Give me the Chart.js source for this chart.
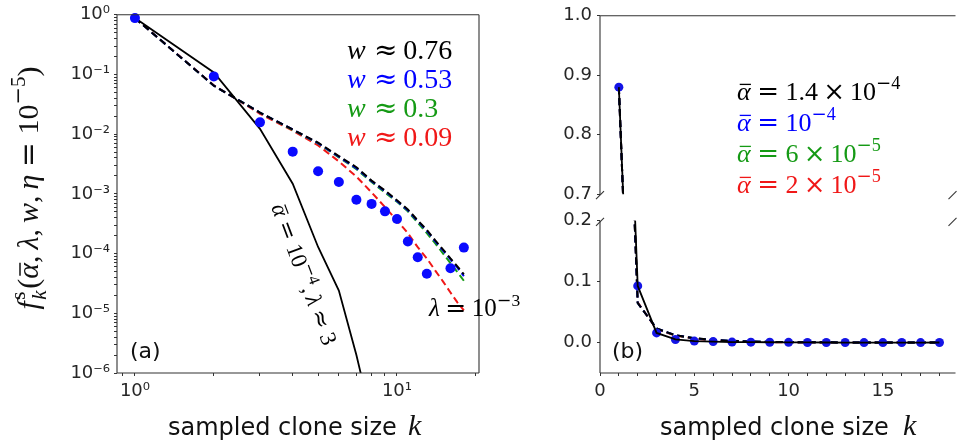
<!DOCTYPE html>
<html><head><meta charset="utf-8">
<script src="https://cdn.jsdelivr.net/npm/chart.js@4.4.1/dist/chart.umd.min.js"></script>
<style>
html,body{margin:0;padding:0;background:#fff;overflow:hidden;width:957px;height:442px;position:relative;}
canvas{position:absolute;display:block;}
</style></head><body>
<canvas id="left" width="560" height="442" style="left:0;top:0"></canvas>
<canvas id="rtop" width="400" height="210" style="left:560px;top:0"></canvas>
<canvas id="rbot" width="400" height="237" style="left:560px;top:205px"></canvas>
<script>
// ---------------- data ----------------
const sampledSize = [1,2,3,4,5,6,7,8,9,10,11,12,13,14,15,16,17,18];
const observedFreq = [0.88,0.093,0.0158,0.0051,0.0024,0.00158,0.00080,0.00068,0.00051,0.00038,0.000160,0.000087,0.000046,0,0,0.000057,0,0.000126];
const lambda3Size = [1,2,3,4,5,6,7,8];
const lambda3Freq = [0.88,0.108,0.0123,0.00148,0.000129,0.000024,0.0000020,0.00000017];
const w076Freq = [0.88,0.065,0.023,0.012,0.0072,0.0043,0.0028,0.00167,0.00114,0.00078,0.00055,0.00036,0.00025,0.000166,0.000117,0.000083,0.000061,0.000045];
const w053Freq = [0.88,0.065,0.023,0.012,0.0071,0.0042,0.0027,0.00163,0.00111,0.00076,0.00053,0.00035,0.00024,0.000160,0.000112,0.000080,0.000058,0.000042];
const w030Freq = [0.88,0.065,0.023,0.0118,0.0070,0.0041,0.0026,0.00158,0.00105,0.00074,0.00051,0.00033,0.00022,0.000148,0.000100,0.000069,0.000049,0.000035];
const w009Freq = [0.88,0.066,0.022,0.0115,0.0065,0.0035,0.00195,0.00106,0.00060,0.00036,0.00022,0.000128,0.000083,0.000052,0.000034,0.0000223,0.0000152,0.0000112];
const logXTicks = [0.9,1,2,3,4,5,6,7,8,9,10,20];
const logYDecades = [-6,-5,-4,-3,-2,-1,0];
const linXTicks = [0,1,2,3,4,5,6,7,8,9,10,11,12,13,14,15,16,17,18];
const linXLabelled = [0,5,10,15];
const topYTicks = [0.7,0.8,0.9,1.0];
const bottomYTicks = [0.0,0.1,0.2];
const wLegend = ['0.76','0.53','0.3','0.09'];
const seriesColors = ['#000000','#0000ff','#159a15','#f01818'];
const dotColor = '#0a0aff';

// ---------------- helpers ----------------
const SERIF = '"Liberation Serif", "Times New Roman", serif';
const OPS = '"DejaVu Serif", serif';
const SANS = '"DejaVu Sans", sans-serif';
const SUP = {'-':'⁻','0':'⁰','1':'¹','2':'²','3':'³','4':'⁴','5':'⁵','6':'⁶','7':'⁷','8':'⁸','9':'⁹'};
const supStr = n => String(n).split('').map(c => SUP[c]).join('');
const logYTicks = [];
logYDecades.forEach(d => { if (d === 0) logYTicks.push(1); else for (let m = 1; m <= 9; m++) logYTicks.push(m * Math.pow(10, d)); });
function powLabel(v){ const e = Math.round(Math.log10(v)); return Math.abs(v/Math.pow(10,e) - 1) < 1e-6 ? '10' + supStr(e) : ''; }
function pts(xs, ys, logMode){ return xs.map((x,i) => ({x, y: (logMode && !(ys[i] > 0)) ? null : ys[i]})); }

function segFont(s, size){ return (s.it ? 'italic ' : '') + (size*(s.sc||1)).toFixed(2) + 'px ' + (s.op ? OPS : (s.fam||SERIF)); }
function drawRich(ctx, segs, x, y, size, color, angle, align){
  ctx.save();
  ctx.translate(x, y); if (angle) ctx.rotate(angle);
  ctx.textBaseline = 'alphabetic'; ctx.textAlign = 'left';
  let cx = 0, prevStart = 0; const items = [];
  for (const s of segs){ ctx.font = segFont(s,size); const w = ctx.measureText(s.t).width; const sx = s.back ? prevStart : cx + (s.gap||0)*size; items.push([s,sx,w]); prevStart = sx; cx = Math.max(cx, sx+w); }
  const off = align === 'center' ? -cx/2 : align === 'right' ? -cx : 0;
  for (const [s,sx,w] of items){
    ctx.font = segFont(s,size); ctx.fillStyle = s.color||color;
    const dy = (s.dy||0)*size;
    ctx.fillText(s.t, sx+off, dy);
    if (s.bar){ ctx.strokeStyle = s.color||color; ctx.lineWidth = Math.max(1, size*0.05); ctx.beginPath(); ctx.moveTo(sx+off+w*0.2, dy-size*0.6); ctx.lineTo(sx+off+w*1.02, dy-size*0.6); ctx.stroke(); }
  }
  ctx.restore();
}
const RG = 0.25;
const op = (t, gap) => ({t, op:true, gap: gap === undefined ? RG : gap});
const num = (t, gap) => ({t, gap: gap === undefined ? RG : gap});
const expo = (n) => [{t:'−', op:true, sc:0.7, dy:-0.42}, {t:n, sc:0.7, dy:-0.42}];
const abar = {t:'α', it:true, bar:true};

function frame(ctx, a, sides){
  ctx.save(); ctx.strokeStyle = '#333'; ctx.lineWidth = 1.1; ctx.beginPath();
  if (sides.includes('l')){ ctx.moveTo(a.left, a.top); ctx.lineTo(a.left, a.bottom); }
  if (sides.includes('r')){ ctx.moveTo(a.right, a.top); ctx.lineTo(a.right, a.bottom); }
  if (sides.includes('t')){ ctx.moveTo(a.left, a.top); ctx.lineTo(a.right, a.top); }
  if (sides.includes('b')){ ctx.moveTo(a.left, a.bottom); ctx.lineTo(a.right, a.bottom); }
  ctx.stroke(); ctx.restore();
}
function breakMark(ctx, x, y){ ctx.save(); ctx.strokeStyle='#333'; ctx.lineWidth=1.1; ctx.beginPath(); ctx.moveTo(x-4, y+4); ctx.lineTo(x+4, y-4); ctx.stroke(); ctx.restore(); }

const tickFont = {family: 'DejaVu Sans', size: 18};
const tickColor = '#262626';
const gridOpts = {drawOnChartArea:false, drawTicks:true, tickLength:3, color:'#333', lineWidth:1};

function curveSets(logMode){
  const curves = [w076Freq, w053Freq, w030Freq, w009Freq];
  return curves.map((c,i) => ({data: pts(sampledSize, c, logMode), borderColor: seriesColors[i], borderWidth: 2, borderDash:[7,4], pointRadius:0, showLine:true, order: 2+i}));
}

// ---------------- left panel (log-log) ----------------
new Chart(document.getElementById('left'), {
  type: 'line',
  data: { datasets: [
    {data: pts(sampledSize, observedFreq, true), showLine:false, pointRadius:5, pointBackgroundColor:dotColor, pointBorderWidth:0, order:0, clip:false},
    {data: pts(lambda3Size, lambda3Freq, true), borderColor:'#000', borderWidth:1.8, pointRadius:0, order:1},
    ...curveSets(true)
  ]},
  options: {
    responsive:false, animation:false, events:[],
    layout: {padding: {left:0, top:14.5, right:81, bottom:0}},
    plugins: {legend:{display:false}, tooltip:{enabled:false}},
    elements: {line:{tension:0}},
    scales: {
      x: {type:'logarithmic', min:0.854, max:20.56,
          afterBuildTicks: s => { s.ticks = logXTicks.map(v => ({value:v})); },
          afterFit: s => { s.height = 69; },
          ticks: {autoSkip:false, maxRotation:0, padding:5, font:tickFont, color:tickColor, callback: v => powLabel(v)},
          grid: gridOpts, border:{display:false}},
      y: {type:'logarithmic', min:1e-6, max:1,
          afterBuildTicks: s => { s.ticks = logYTicks.map(v => ({value:v})); },
          afterFit: s => { s.width = 117; },
          ticks: {autoSkip:false, padding:4, font:tickFont, color:tickColor, callback: v => powLabel(v)},
          grid: gridOpts, border:{display:false}}
    }
  },
  plugins: [{id:'leftDecor', afterDraw(chart){
    const ctx = chart.ctx, a = chart.chartArea;
    frame(ctx, a, 'lrtb');
    // legend (w values)
    wLegend.forEach((w,i) => drawRich(ctx, [{t:'w', it:true}, op('≈', 0.3), num(w, 0.2)], 347, 59 + i*29, 28, seriesColors[i]));
    // rotated annotation along the solid curve
    drawRich(ctx, [abar, op('='), num('10'), ...expo('4'), {t:','}, {t:'λ', it:true, gap:0.17}, op('≈'), num('3')], 271, 207, 23, '#000', 69.5*Math.PI/180, 'left');
    drawRich(ctx, [{t:'λ', it:true}, op('=', 0.22), num('10', 0.22), ...expo('3')], 429, 316, 25, '#000');
    // panel tag
    ctx.save(); ctx.font = '22px ' + SANS; ctx.fillStyle = '#111'; ctx.fillText('(a)', 130, 358); ctx.restore();
    // x title
    ctx.save(); ctx.font = '24px ' + SANS; ctx.fillStyle = '#111'; ctx.fillText('sampled clone size', 168, 435); ctx.restore();
    drawRich(ctx, [{t:'k', it:true}], 408, 435, 30, '#111');
    // y title
    drawRich(ctx, [{t:'f', it:true}, {t:'k', it:true, sc:0.7, dy:0.25, gap:0.05}, {t:'s', sc:0.7, dy:-0.42, back:true}, {t:'(', gap:0.05}, abar, {t:','}, {t:'λ', it:true, gap:0.2}, {t:','}, {t:'w', it:true, gap:0.2}, {t:','}, {t:'η', it:true, gap:0.2}, op('='), num('10'), ...expo('5'), {t:')'}], 38, 188, 30, '#111', -Math.PI/2, 'center');
  }}]
});

// ---------------- right panel (broken linear axis) ----------------
function rightDatasets(){
  return [
    {data: pts(sampledSize, observedFreq, false), borderColor:'#000', borderWidth:1.8, pointRadius:0, order:0},
    {data: pts(sampledSize, observedFreq, false), showLine:false, pointRadius:4.5, pointBackgroundColor:'#1414e6', pointBorderWidth:0, order:1},
    ...curveSets(false)
  ];
}
const xLinear = {type:'linear', min:0, max:18.85,
  afterBuildTicks: s => { s.ticks = linXTicks.map(v => ({value:v})); },
  ticks: {autoSkip:false, maxRotation:0, padding:5, font:tickFont, color:tickColor, callback: v => linXLabelled.includes(v) ? String(v) : ''},
  grid: gridOpts, border:{display:false}};

new Chart(document.getElementById('rtop'), {
  type:'line',
  data:{datasets: rightDatasets()},
  options:{
    responsive:false, animation:false, events:[],
    layout:{padding:{left:0, top:14, right:1, bottom:10}},
    plugins:{legend:{display:false}, tooltip:{enabled:false}},
    scales:{
      x: Object.assign({}, xLinear, {display:false}),
      y: {type:'linear', min:0.7, max:1.0,
          afterBuildTicks: s => { s.ticks = topYTicks.map(v => ({value:v})); },
          afterFit: s => { s.width = 40; },
          ticks:{autoSkip:false, padding:5, font:tickFont, color:tickColor, callback: v => v.toFixed(1)},
          grid: gridOpts, border:{display:false}}
    }
  },
  plugins:[{id:'rtopDecor', afterDraw(chart){
    const ctx = chart.ctx, a = chart.chartArea;
    frame(ctx, a, 'lt');
    breakMark(ctx, a.left, a.bottom + 1); breakMark(ctx, a.right - 3, a.bottom + 1);
    const legend = [
      [abar, op('='), num('1.4'), op('×', 0.2), num('10', 0.2), ...expo('4')],
      [abar, op('='), num('10'), ...expo('4')],
      [abar, op('='), num('6'), op('×', 0.2), num('10', 0.2), ...expo('5')],
      [abar, op('='), num('2'), op('×', 0.2), num('10', 0.2), ...expo('5')]
    ];
    const base = [100, 131, 162, 193];
    legend.forEach((segs,i) => drawRich(ctx, segs, 177, base[i], 26, seriesColors[i]));
  }}]
});

new Chart(document.getElementById('rbot'), {
  type:'line',
  data:{datasets: rightDatasets()},
  options:{
    responsive:false, animation:false, events:[],
    layout:{padding:{left:0, top:13, right:1, bottom:0}},
    plugins:{legend:{display:false}, tooltip:{enabled:false}},
    scales:{
      x: Object.assign({}, xLinear, {afterFit: s => { s.height = 69; }}),
      y: {type:'linear', min:-0.05, max:0.2,
          afterBuildTicks: s => { s.ticks = bottomYTicks.map(v => ({value:v})); },
          afterFit: s => { s.width = 40; },
          ticks:{autoSkip:false, padding:5, font:tickFont, color:tickColor, callback: v => v.toFixed(1)},
          grid: gridOpts, border:{display:false}}
    }
  },
  plugins:[{id:'rbotDecor', afterDraw(chart){
    const ctx = chart.ctx, a = chart.chartArea;
    frame(ctx, a, 'lb');
    breakMark(ctx, a.left, a.top + 1); breakMark(ctx, a.right - 3, a.top + 1);
    ctx.save(); ctx.font = '22px ' + SANS; ctx.fillStyle = '#111'; ctx.fillText('(b)', 52, 153); ctx.restore();
    ctx.save(); ctx.font = '24px ' + SANS; ctx.fillStyle = '#111'; ctx.fillText('sampled clone size', 100, 230); ctx.restore();
    drawRich(ctx, [{t:'k', it:true}], 343, 230, 30, '#111');
  }}]
});
</script>
</body></html>
